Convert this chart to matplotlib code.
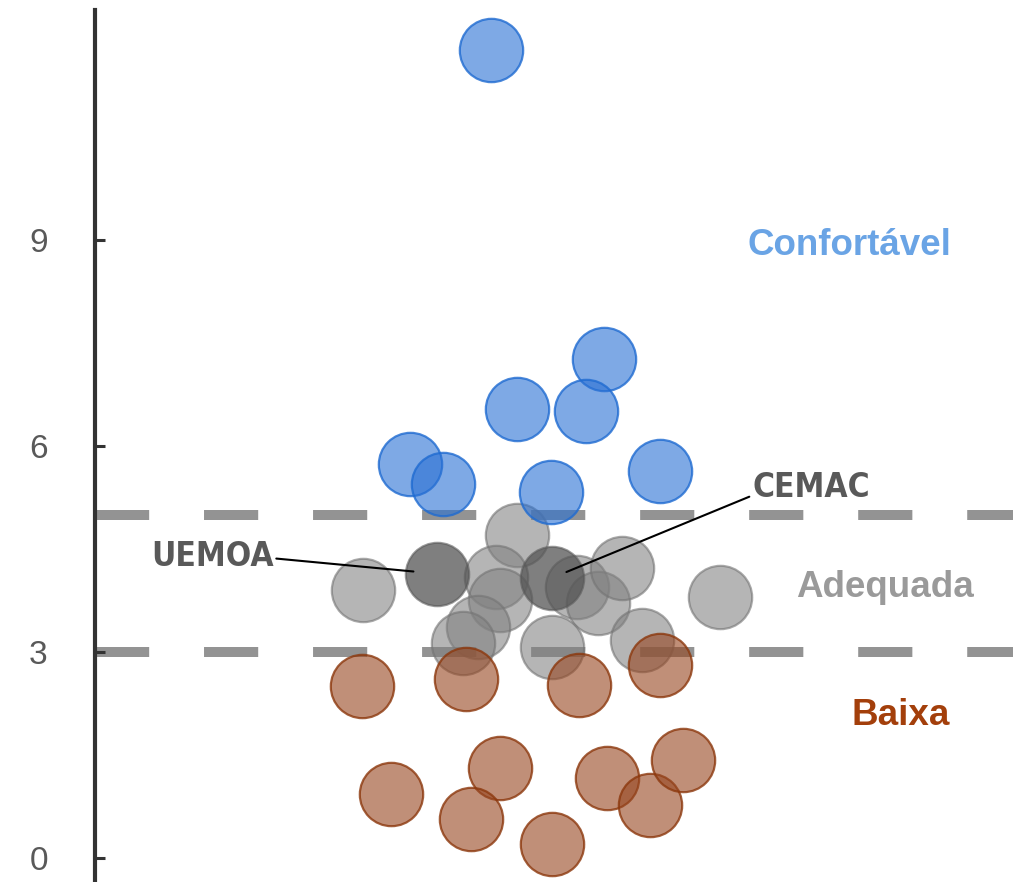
import matplotlib
matplotlib.use("Agg")
import matplotlib.pyplot as plt
from matplotlib import font_manager

# reserve coverage (months of imports), strip-plot jitter positions
conf_x = [5.77, 7.41, 6.15, 7.15, 4.59, 5.07, 6.64, 8.23]
conf_y = [11.77, 7.27, 6.54, 6.51, 5.74, 5.45, 5.33, 5.64]

adeq_x = [3.90, 6.15, 5.84, 5.90, 5.58, 5.36, 7.02, 7.32, 7.67, 6.66, 7.97, 9.10]
adeq_y = [3.90, 4.70, 4.09, 3.76, 3.36, 3.13, 3.95, 3.71, 4.22, 3.07, 3.17, 3.80]

baixa_x = [3.89, 5.40, 7.05, 8.23, 4.31, 5.90, 5.48, 6.66, 7.46, 8.08, 8.56]
baixa_y = [2.50, 2.61, 2.52, 2.81, 0.93, 1.31, 0.57, 0.20, 1.17, 0.77, 1.43]

union_names = ["UEMOA", "CEMAC"]
union_x = [4.98, 6.66]
union_y = [4.14, 4.08]

thresholds = [3, 5]
yticks = [0, 3, 6, 9]

# look for a condensed bold face for the callouts
narrow = None
for f in font_manager.fontManager.ttflist:
    if f.name == "Liberation Sans Narrow":
        narrow = dict(family=["Liberation Sans Narrow"], fontstretch="condensed", fontsize=25)
        break
if narrow is None:
    for f in font_manager.fontManager.ttflist:
        if f.stretch == "condensed" and f.weight in ("bold", 700):
            narrow = dict(family=[f.name], fontstretch="condensed", fontsize=24)
            break
if narrow is None:
    narrow = dict(family=["Liberation Sans"], fontsize=22)

plt.rcParams['font.family'] = ['Liberation Sans', 'DejaVu Sans']
plt.rcParams['lines.scale_dashes'] = False

fig = plt.figure(figsize=(10.13, 8.82), dpi=100, facecolor='w')
ax = fig.add_axes([95 / 1013, 0, 1 - 95 / 1013, 872 / 882])

for t in thresholds:
    ax.axhline(t, color='#939393', lw=7.2, dashes=(39, 39.5), solid_capstyle='butt',
               dash_capstyle='butt', zorder=1)

s = 2080
ax.scatter(adeq_x, adeq_y, s=s, facecolor=(0.50, 0.50, 0.50, 0.58),
           edgecolor=(0.45, 0.45, 0.45, 0.6), lw=1.6, zorder=2)
ax.scatter(union_x, union_y, s=s, facecolor=(0.33, 0.33, 0.33, 0.75),
           edgecolor=(0.35, 0.35, 0.35, 0.6), lw=1.6, zorder=3)
ax.scatter(conf_x, conf_y, s=s, facecolor=(0.16, 0.44, 0.83, 0.6),
           edgecolor=(0.12, 0.42, 0.82, 0.8), lw=1.6, zorder=4)
ax.scatter(baixa_x, baixa_y, s=s, facecolor=(0.59, 0.27, 0.12, 0.6),
           edgecolor=(0.55, 0.22, 0.05, 0.8), lw=1.6, zorder=4)

# region labels
ax.text(10.99, 8.78, "Confortável", color='#6AA4E5', fontsize=26.5, fontweight='bold',
        ha='center', va='baseline')
ax.text(11.51, 3.80, "Adequada", color='#9A9A9A', fontsize=26.5, fontweight='bold',
        ha='center', va='baseline')
ax.text(11.74, 1.94, "Baixa", color='#A33F0B', fontsize=26.5, fontweight='bold',
        ha='center', va='baseline')

# union callouts
ax.annotate(union_names[0], xy=(union_x[0], union_y[0]), xytext=(2.60, 4.25),
            ha='right', va='baseline', fontweight='bold', color='#595959',
            arrowprops=dict(arrowstyle='-', color='k', lw=1.5, shrinkA=0, shrinkB=17,
                            relpos=(1, 0.45)), zorder=6, **narrow)
ax.annotate(union_names[1], xy=(union_x[1], union_y[1]), xytext=(9.57, 5.26),
            ha='left', va='baseline', fontweight='bold', color='#595959',
            arrowprops=dict(arrowstyle='-', color='k', lw=1.5, shrinkA=0, shrinkB=11,
                            relpos=(0, 0.25)), zorder=6, **narrow)

ax.set_xlim(0, 13.37)
ax.set_ylim(-0.35, 12.35)
ax.set_xticks([])
ax.set_yticks(yticks)
ax.tick_params(axis='y', direction='in', length=7.5, width=2.2, color='#333333',
               labelsize=24, labelcolor='#595959', pad=34)
for side in ['top', 'right', 'bottom']:
    ax.spines[side].set_visible(False)
ax.spines['left'].set_linewidth(3)
ax.spines['left'].set_color('#333333')

plt.savefig("out.png", dpi=100)
